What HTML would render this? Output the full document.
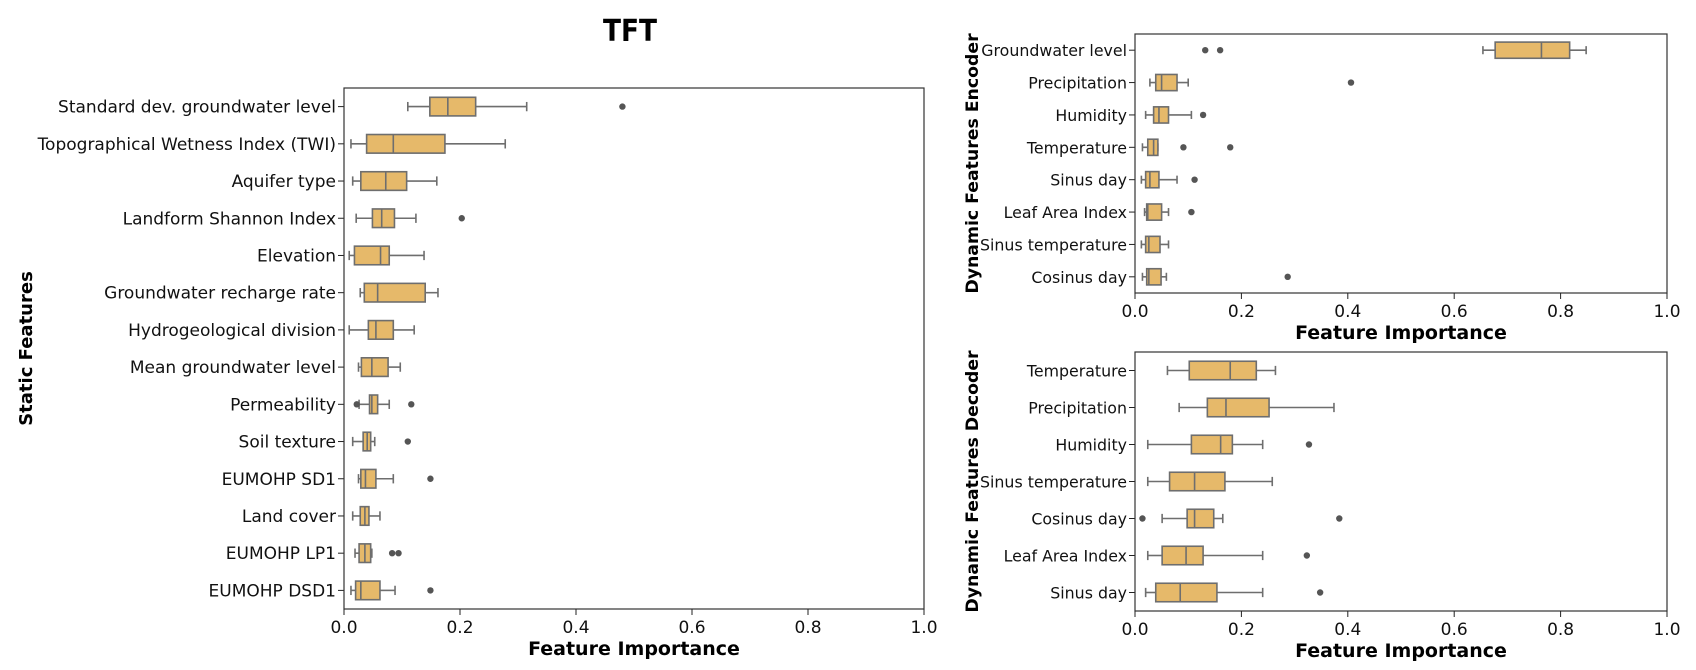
<!DOCTYPE html>
<html><head><meta charset="utf-8"><style>
body{margin:0;background:#fff;}
svg{display:block;font-family:"DejaVu Sans","Liberation Sans",sans-serif;}
</style></head><body>
<svg id="chart" width="1696" height="670" viewBox="0 0 1696 670">
<text x="630" y="41" text-anchor="middle" font-size="30" font-weight="bold" textLength="54" lengthAdjust="spacingAndGlyphs">TFT</text>
</svg>
<script>
// ---- Static features panel data ----
const staticCats = ["Standard dev. groundwater level","Topographical Wetness Index (TWI)","Aquifer type","Landform Shannon Index","Elevation","Groundwater recharge rate","Hydrogeological division","Mean groundwater level","Permeability","Soil texture","EUMOHP SD1","Land cover","EUMOHP LP1","EUMOHP DSD1"];
const staticLo  = [0.110,0.012,0.015,0.021,0.009,0.028,0.009,0.025,0.026,0.015,0.025,0.015,0.019,0.012];
const staticQ1  = [0.148,0.039,0.029,0.049,0.018,0.035,0.042,0.030,0.044,0.033,0.029,0.028,0.026,0.020];
const staticMed = [0.179,0.085,0.072,0.065,0.063,0.058,0.055,0.048,0.048,0.040,0.037,0.036,0.036,0.029];
const staticQ3  = [0.227,0.174,0.108,0.087,0.078,0.140,0.085,0.076,0.058,0.046,0.055,0.043,0.046,0.062];
const staticHi  = [0.315,0.278,0.160,0.124,0.138,0.162,0.121,0.097,0.078,0.053,0.085,0.062,0.048,0.088];
const staticOut = [[0.48],[],[],[0.203],[],[],[],[],[0.022,0.116],[0.11],[0.149],[],[0.083,0.094],[0.149]];
// ---- Dynamic encoder data ----
const encCats = ["Groundwater level","Precipitation","Humidity","Temperature","Sinus day","Leaf Area Index","Sinus temperature","Cosinus day"];
const encLo  = [0.654,0.028,0.020,0.014,0.012,0.018,0.012,0.014];
const encQ1  = [0.677,0.039,0.035,0.024,0.020,0.022,0.020,0.022];
const encMed = [0.764,0.050,0.045,0.035,0.028,0.024,0.026,0.026];
const encQ3  = [0.817,0.079,0.063,0.043,0.045,0.050,0.047,0.049];
const encHi  = [0.848,0.100,0.106,0.043,0.079,0.063,0.063,0.059];
const encOut = [[0.132,0.160],[0.406],[0.128],[0.091,0.179],[0.112],[0.106],[],[0.287]];
// ---- Dynamic decoder data ----
const decCats = ["Temperature","Precipitation","Humidity","Sinus temperature","Cosinus day","Leaf Area Index","Sinus day"];
const decLo  = [0.061,0.083,0.024,0.024,0.051,0.024,0.020];
const decQ1  = [0.102,0.136,0.106,0.065,0.098,0.051,0.039];
const decMed = [0.179,0.171,0.161,0.112,0.112,0.096,0.085];
const decQ3  = [0.228,0.252,0.183,0.169,0.148,0.128,0.154];
const decHi  = [0.264,0.374,0.240,0.258,0.165,0.240,0.240];
const decOut = [[],[],[0.327],[],[0.014,0.384],[0.323],[0.348]];
const xTicks = [0,0.2,0.4,0.6,0.8,1.0];
const xTickLabels = ["0.0","0.2","0.4","0.6","0.8","1.0"];

const NS="http://www.w3.org/2000/svg";
const svg=document.getElementById('chart');
function mk(tag,attrs,parent){const e=document.createElementNS(NS,tag);for(const k in attrs)e.setAttribute(k,attrs[k]);(parent||svg).appendChild(e);return e;}

function panel(key,box,cats,lo,q1,med,q3,hi,out,yTitle,yTitleX,yTitleSize,labelSize){
  const g=mk('g',{});
  
  
  const {x0,x1,y0,y1}=box;
  const xs=v=>x0+(x1-x0)*v;
  const band=(y1-y0)/cats.length;
  const ys=i=>y0+band*(i+0.5);
  const bh=band*0.5;
  const ec='#6e6e6e';
  cats.forEach((c,i)=>{
    const y=ys(i);
    const bg=mk('g',{},g);
    
    
    mk('line',{x1:xs(lo[i]),x2:xs(q1[i]),y1:y,y2:y,stroke:ec,'stroke-width':1.6},bg);
    mk('line',{x1:xs(q3[i]),x2:xs(hi[i]),y1:y,y2:y,stroke:ec,'stroke-width':1.6},bg);
    mk('line',{x1:xs(lo[i]),x2:xs(lo[i]),y1:y-bh/4,y2:y+bh/4,stroke:ec,'stroke-width':1.6},bg);
    mk('line',{x1:xs(hi[i]),x2:xs(hi[i]),y1:y-bh/4,y2:y+bh/4,stroke:ec,'stroke-width':1.6},bg);
    mk('rect',{x:xs(q1[i]),y:y-bh/2,width:Math.max(0.5,xs(q3[i])-xs(q1[i])),height:bh,fill:'#e6b96a',stroke:ec,'stroke-width':1.6},bg);
    mk('line',{x1:xs(med[i]),x2:xs(med[i]),y1:y-bh/2,y2:y+bh/2,stroke:ec,'stroke-width':1.6},bg);
    out[i].forEach(v=>{const o=mk('circle',{cx:xs(v),cy:y,r:3.2,fill:'#555'},bg);
      
      });
    mk('line',{x1:x0-6,x2:x0,y1:y,y2:y,stroke:'#222','stroke-width':1},g);
    const t=mk('text',{x:x0-8,y:y+6,'text-anchor':'end','font-size':labelSize,fill:'#111'},g);
    t.textContent=c;
    
    
  });
  mk('rect',{x:x0,y:y0,width:x1-x0,height:y1-y0,fill:'none',stroke:'#333','stroke-width':1.2},g);
  xTicks.forEach((v,i)=>{
    mk('line',{x1:xs(v),x2:xs(v),y1:y1,y2:y1+6,stroke:'#222','stroke-width':1},g);
    const t=mk('text',{x:xs(v),y:y1+24,'text-anchor':'middle','font-size':17,fill:'#111'},g);
    t.textContent=xTickLabels[i];
    
    
  });
  const xt=mk('text',{x:(x0+x1)/2,y:y1+46,'text-anchor':'middle','font-size':19,'font-weight':'bold'},g);
  xt.textContent='Feature Importance';
  
  
  const cy=(y0+y1)/2;
  const yt=mk('text',{x:yTitleX,y:cy,'text-anchor':'middle','font-size':yTitleSize,'font-weight':'bold',transform:`rotate(-90 ${yTitleX} ${cy})`},g);
  yt.textContent=yTitle;
  
  
}
panel('static',{x0:344,x1:924,y0:88,y1:609},staticCats,staticLo,staticQ1,staticMed,staticQ3,staticHi,staticOut,'Static Features',32,18,17);
panel('encoder',{x0:1135,x1:1667,y0:34,y1:293},encCats,encLo,encQ1,encMed,encQ3,encHi,encOut,'Dynamic Features Encoder',978,17.3,15.8);
panel('decoder',{x0:1135,x1:1667,y0:352,y1:611},decCats,decLo,decQ1,decMed,decQ3,decHi,decOut,'Dynamic Features Decoder',978,17.3,15.8);
</script>
</body></html>
